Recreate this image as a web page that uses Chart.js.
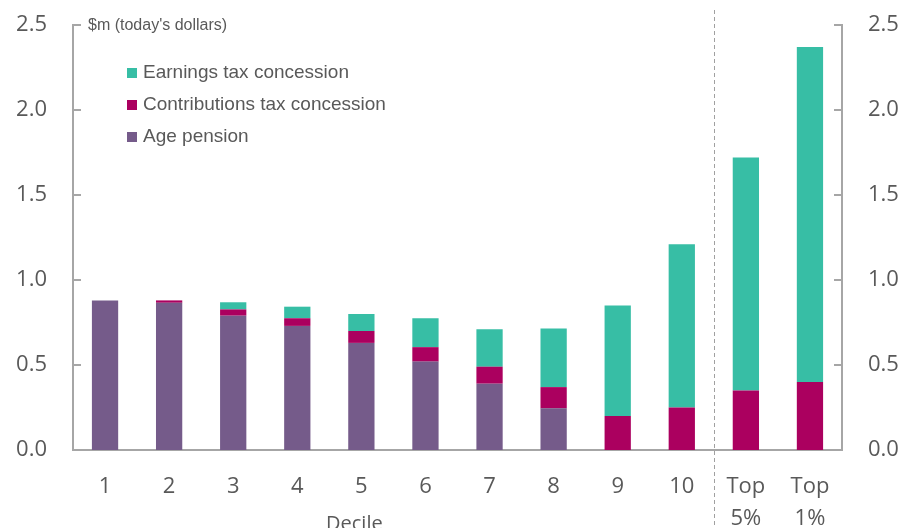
<!DOCTYPE html>
<html>
<head>
<meta charset="utf-8">
<script src="https://cdn.jsdelivr.net/npm/chart.js@4/dist/chart.umd.min.js"></script>
<style>
  html, body { margin: 0; padding: 0; background: #ffffff; }
  #wrap { width: 906px; height: 528px; position: relative; }
</style>
</head>
<body>
<div id="wrap"><canvas id="c" width="906" height="528"></canvas></div>
<script>
// ---- Data ----
const categories = ["1", "2", "3", "4", "5", "6", "7", "8", "9", "10", ["Top", "5%"], ["Top", "1%"]];
const agePension = [0.88, 0.866, 0.79, 0.73, 0.63, 0.52, 0.39, 0.245, 0, 0, 0, 0];
const contributionsTax = [0, 0.014, 0.037, 0.045, 0.07, 0.085, 0.10, 0.125, 0.20, 0.25, 0.35, 0.40];
const earningsTax = [0, 0, 0.042, 0.068, 0.10, 0.17, 0.22, 0.345, 0.65, 0.96, 1.37, 1.97];
const yTicks = [0, 0.5, 1.0, 1.5, 2.0, 2.5];
const seriesNames = ["Age pension", "Contributions tax concession", "Earnings tax concession"];
const unitLabel = "$m (today's dollars)";
const xTitle = "Decile";

const COLORS = { age: "#755B8A", contrib: "#AB005F", earn: "#37BEA5" };
const AXIS = "#A6A6A6";
const TEXT = "#595959";

const extras = {
  id: "extras",
  afterDraw(chart) {
    const ctx = chart.ctx;
    const ca = chart.chartArea;
    const x = chart.scales.x, y = chart.scales.y;
    ctx.save();
    // inward tick marks on both axes
    ctx.strokeStyle = AXIS; ctx.lineWidth = 2;
    yTicks.forEach(v => {
      const py = Math.round(y.getPixelForValue(v));
      ctx.beginPath();
      ctx.moveTo(ca.left, py); ctx.lineTo(ca.left + 8, py);
      ctx.moveTo(ca.right, py); ctx.lineTo(ca.right - 8, py);
      ctx.stroke();
    });
    // dashed separator between decile 10 and Top 5%
    const sx = Math.round((x.getPixelForValue(9) + x.getPixelForValue(10)) / 2) + 0.5;
    ctx.setLineDash([4, 3]); ctx.lineWidth = 1; ctx.strokeStyle = "#A0A0A0";
    ctx.beginPath(); ctx.moveTo(sx, 10); ctx.lineTo(sx, chart.height); ctx.stroke();
    ctx.setLineDash([]);
    // unit label
    ctx.fillStyle = TEXT;
    ctx.font = '16px "Liberation Sans", Arial, sans-serif';
    ctx.textBaseline = "middle"; ctx.textAlign = "left";
    ctx.fillText(unitLabel, ca.left + 15, ca.top + 1);
    // legend (reverse order)
    ctx.font = '19px "Liberation Sans", Arial, sans-serif';
    const ds = chart.data.datasets.slice().reverse();
    ds.forEach((d, i) => {
      const cy = ca.top + 48 + i * 32;
      ctx.fillStyle = d.backgroundColor;
      ctx.fillRect(ca.left + 54, cy - 5, 10, 10);
      ctx.fillStyle = TEXT;
      ctx.fillText(d.label, ca.left + 70, cy);
    });
    // x-axis title
    const tx = x.getPixelForValue(4) - 7;
    ctx.font = '20px "Open Sans", "Noto Sans", sans-serif';
    ctx.textAlign = "center"; ctx.textBaseline = "top";
    ctx.fillText(xTitle, tx, 514);
    ctx.restore();
  }
};

const tickFont = { family: '"Open Sans", "Noto Sans", sans-serif', size: 22 };
function fitY(width) {
  return function (s) { s.width = width; s.paddingTop = 0; s.paddingBottom = 0; };
}

new Chart(document.getElementById("c"), {
  type: "bar",
  data: {
    labels: categories,
    datasets: [
      { label: seriesNames[0], data: agePension, backgroundColor: COLORS.age },
      { label: seriesNames[1], data: contributionsTax, backgroundColor: COLORS.contrib },
      { label: seriesNames[2], data: earningsTax, backgroundColor: COLORS.earn }
    ]
  },
  options: {
    responsive: false,
    animation: false,
    devicePixelRatio: 1,
    datasets: { bar: { barPercentage: 0.41, categoryPercentage: 1.0 } },
    layout: { padding: { top: 25, left: 0, right: 0, bottom: 0 } },
    plugins: { legend: { display: false }, tooltip: { enabled: false } },
    scales: {
      x: {
        stacked: true,
        grid: { display: false, drawTicks: false },
        border: { color: AXIS, width: 2 },
        ticks: { color: TEXT, font: { family: '"Open Sans", "Noto Sans", sans-serif', size: 22, lineHeight: 1.45 }, padding: 21, maxRotation: 0, autoSkip: false },
        afterFit(s) { s.height = 78; s.paddingLeft = 0; s.paddingRight = 0; }
      },
      y: {
        stacked: true, position: "left", min: 0, max: 2.5,
        grid: { display: false, drawTicks: false },
        border: { color: AXIS, width: 2 },
        afterBuildTicks(s) { s.ticks = yTicks.map(v => ({ value: v })); },
        ticks: { color: TEXT, font: tickFont, padding: 26, callback: v => v.toFixed(1) },
        afterFit: fitY(73)
      },
      y2: {
        position: "right", min: 0, max: 2.5,
        grid: { display: false, drawTicks: false },
        border: { color: AXIS, width: 2 },
        afterBuildTicks(s) { s.ticks = yTicks.map(v => ({ value: v })); },
        ticks: { color: TEXT, font: tickFont, padding: 26, callback: v => v.toFixed(1) },
        afterFit: fitY(64)
      }
    }
  },
  plugins: [extras]
});
</script>
</body>
</html>
